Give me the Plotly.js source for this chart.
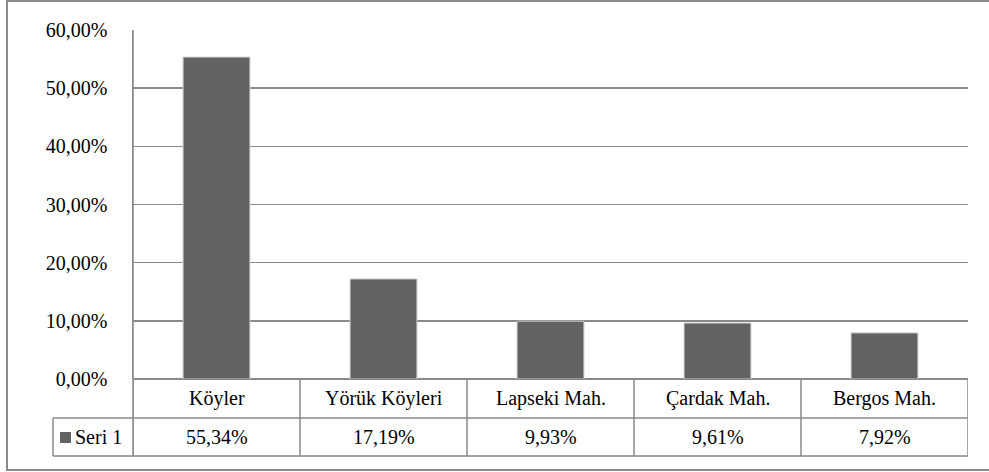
<!DOCTYPE html>
<html>
<head>
<meta charset="utf-8">
<script src="https://cdn.plot.ly/plotly-3.0.1.min.js"></script>
<style>html,body{margin:0;padding:0;background:#fff;}#chart{width:989px;height:472px;}</style>
</head>
<body>
<div id="chart"></div>
<script>
const categories = ["Köyler", "Yörük Köyleri", "Lapseki Mah.", "Çardak Mah.", "Bergos Mah."];
const values = [0.5534, 0.1719, 0.0993, 0.0961, 0.0792];
const valueLabels = ["55,34%", "17,19%", "9,93%", "9,61%", "7,92%"];
const seriesName = "Seri 1";
const yTicks = [0, 0.1, 0.2, 0.3, 0.4, 0.5, 0.6];

const FONT = "Liberation Serif";
const FS = 20;
const LINE = "#8a8a8a";
const BAR = "#626262";

const W = 989, H = 472, L = 133, R = 21, T = 30, B = 93;
const pw = W - L - R, ph = H - T - B;
const px = x => (x - L) / pw;
const py = y => (H - B - y) / ph;

const xs = categories.map((c, i) => i);

const shapes = [];
const ann = [];
// outer chart-area border
shapes.push({type: "rect", xref: "paper", yref: "paper", x0: px(7), x1: px(995), y0: py(470), y1: py(1), line: {color: LINE, width: 2}, layer: "below"});
// data table horizontal rules
[418, 456].forEach(y => shapes.push({type: "line", xref: "paper", yref: "paper", x0: px(53), x1: 1, y0: py(y), y1: py(y), line: {color: LINE, width: 1.5}}));
// data table column rules at category boundaries
for (let i = 0; i <= categories.length; i++) {
  shapes.push({type: "line", xref: "x", yref: "paper", x0: i - 0.5, x1: i - 0.5, y0: py(456), y1: 0, line: {color: LINE, width: 1.5}});
}
shapes.push({type: "line", xref: "paper", yref: "paper", x0: px(53), x1: px(53), y0: py(456), y1: py(418), line: {color: LINE, width: 1.5}});
shapes.push({type: "line", xref: "paper", yref: "paper", x0: 0, x1: 0, y0: py(456), y1: 1, line: {color: LINE, width: 1.5}});
// legend key
shapes.push({type: "rect", xref: "paper", yref: "paper", x0: px(60), x1: px(71), y0: py(443), y1: py(432), fillcolor: BAR, line: {width: 0}});

categories.forEach((c, i) => {
  ann.push({xref: "x", yref: "paper", x: i, y: py(398.5), text: c, showarrow: false, font: {family: FONT, size: FS, color: "#000"}, xanchor: "center", yanchor: "middle"});
  ann.push({xref: "x", yref: "paper", x: i, y: py(437), text: valueLabels[i], showarrow: false, font: {family: FONT, size: FS, color: "#000"}, xanchor: "center", yanchor: "middle"});
});
ann.push({xref: "paper", yref: "paper", x: px(73), y: py(437), text: seriesName, showarrow: false, font: {family: FONT, size: FS, color: "#000"}, xanchor: "left", yanchor: "middle"});

const data = [{
  type: "bar", x: xs, y: values, width: 0.4,
  marker: {color: BAR, line: {color: "#c8c8c8", width: 1}},
  name: seriesName, hoverinfo: "skip"
}];

const layout = {
  width: W, height: H,
  margin: {l: L, r: R, t: T, b: B, pad: 0},
  paper_bgcolor: "#fff", plot_bgcolor: "#fff",
  separators: ",.",
  showlegend: false,
  font: {family: FONT, size: FS, color: "#000"},
  xaxis: {range: [-0.5, categories.length - 0.5], showticklabels: false, showgrid: false, zeroline: false, showline: false, ticks: "", fixedrange: true},
  yaxis: {range: [0, 0.6], tickvals: yTicks, tickformat: ".2%", showgrid: true, gridcolor: LINE, gridwidth: 1.5, zeroline: true, zerolinecolor: LINE, zerolinewidth: 1.5, showline: true, linecolor: LINE, linewidth: 1.5, ticks: "", ticklabelstandoff: 20, tickfont: {family: FONT, size: FS, color: "#000"}, fixedrange: true},
  shapes: shapes,
  annotations: ann
};

Plotly.newPlot("chart", data, layout, {displayModeBar: false, staticPlot: true});
</script>
</body>
</html>
